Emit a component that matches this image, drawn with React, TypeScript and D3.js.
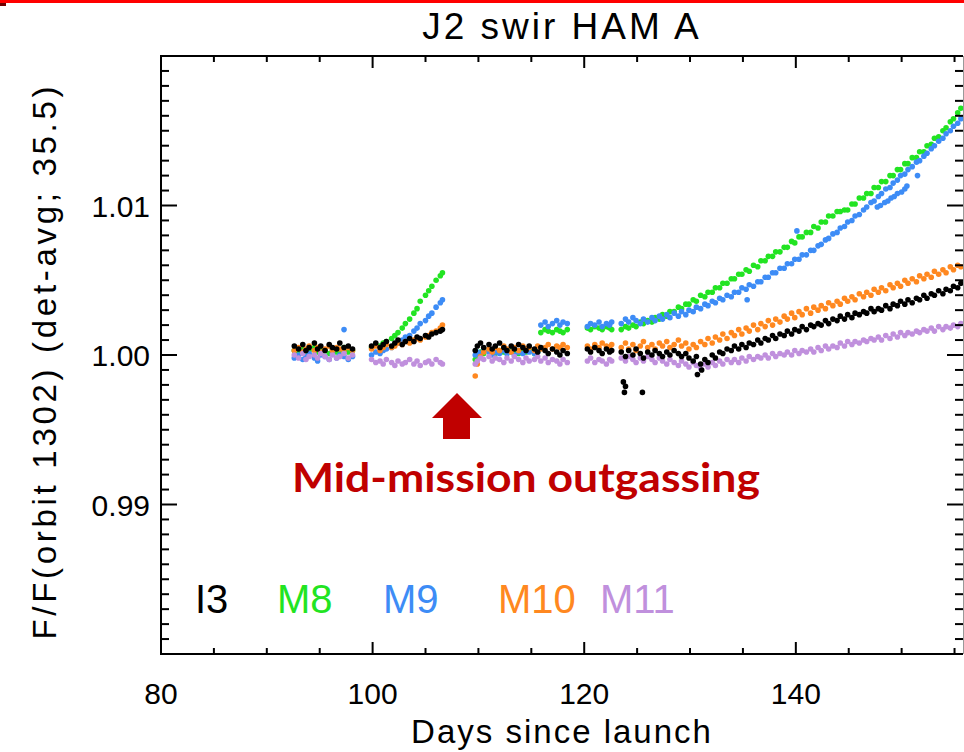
import React from "react";
import * as d3 from "d3";

// Observation days (days since launch); one entry per orbit sample, grouped by data segment.
const DAYS = [
  92.6, 93.0, 93.4, 93.7, 94.0, 94.5, 94.8, 95.1, 95.5, 95.9, 96.2, 96.6, 96.9, 97.3, 97.7, 98.1,
  99.9, 100.3, 100.7, 101.0, 101.3, 101.8, 102.1, 102.4, 102.8, 103.1, 103.5, 103.9, 104.2, 104.5, 105.0, 105.3, 105.6, 106.0, 106.4, 106.6,
  109.7, 109.9, 110.2, 110.5, 111.0, 111.3, 111.6, 112.0, 112.4, 112.7, 113.1, 113.4, 113.8, 114.2, 114.5, 114.8, 115.3, 115.6,
  115.9, 116.3, 116.6, 117.0, 117.4, 117.7, 118.0, 118.4,
  120.3, 120.6, 121.0, 121.4, 121.7, 122.1, 122.4, 122.6,
  123.5, 123.9, 124.2, 124.6, 124.9, 125.3, 125.6, 126.0, 126.4, 126.7,
  127.1, 127.4, 127.8, 128.1, 128.5, 128.9, 129.2, 129.6, 129.9, 130.3,
  130.6, 131.0, 131.4, 131.7, 132.1, 132.4, 132.8, 133.1, 133.5, 133.9,
  134.2, 134.6, 134.9, 135.3, 135.6, 136.0, 136.4, 136.7, 137.1, 137.4,
  137.8, 138.1, 138.5, 138.9, 139.2, 139.6, 139.9, 140.3, 140.6, 141.0,
  141.4, 141.7, 142.1, 142.4, 142.8, 143.1, 143.5, 143.9, 144.2, 144.6,
  144.9, 145.3, 145.6, 146.0, 146.4, 146.7, 147.1, 147.4, 147.8, 148.1,
  148.5, 148.9, 149.2, 149.6, 149.9, 150.3, 150.6, 151.0, 151.4, 151.7,
  152.1, 152.4, 152.8, 153.1, 153.5, 153.9, 154.2, 154.6, 154.9, 155.3,
  155.6,
];

// F/F change per band, in units of 0.0001 (value = 1 + v / 10000), aligned with DAYS.
const I3 = [
  6, 4, 7, 3, 5, 8, 4, 6, 3, 7, 5, 4, 8, 5, 6, 4,
  6, 8, 5, 7, 9, 6, 8, 10, 7, 9, 11, 9, 12, 11, 13, 12, 14, 15, 16, 17,
  3, 6, 8, 5, 7, 4, 6, 8, 5, 3, 6, 4, 7, 5, 3, 6, 4, 2, 5, 3, 1, 4, 2, 0, 3, 1,
  4, 2, 5, 3, 1, 4, 2, 3,
  2, -1, 3, 0, 4, 1, -2, 2, 0, 3,
  1, -1, 2, 0, 3, 1, -1, 1, -2, -4,
  -1, -6, -3, -5, 0, -2, 2, 1, 4, 3,
  6, 4, 7, 5, 8, 7, 10, 8, 11, 10,
  13, 11, 14, 13, 16, 14, 17, 16, 19, 17,
  20, 19, 21, 20, 23, 21, 24, 23, 26, 24,
  27, 25, 28, 27, 29, 28, 31, 29, 31, 30,
  33, 31, 34, 33, 36, 34, 37, 35, 38, 37,
  40, 38, 41, 40, 43, 41, 44, 43, 46, 45,
  48,
];

const M8 = [
  3, 2, 4, 1, 3, 5, 2, 4, 3, 1, 4, 2, 3, 5, 2, 3,
  5, 7, 6, 8, 9, 11, 13, 15, 18, 21, 24, 28, 31, 36, 40, 43, 46, 50, 53, 55,
  -3, 0, 2, 1, 3, 2, 1, 3, 2, 1, 3, 2, 1, 3, 2, 3, 1, 2, 15, 17, 16, 15, 17, 16, 15, 17,
  18, 17, 19, 18, 17, 19, 18, 17,
  17, 19, 18, 20, 19, 22, 21, 23, 22, 25,
  24, 27, 26, 29, 29, 32, 31, 34, 34, 37,
  36, 40, 39, 42, 42, 45, 45, 48, 48, 51,
  51, 54, 54, 57, 56, 60, 59, 63, 63, 66,
  66, 69, 69, 72, 72, 76, 75, 79, 79, 82,
  82, 86, 85, 89, 89, 93, 93, 96, 96, 97,
  97, 101, 101, 105, 105, 108, 108, 112, 112, 116,
  116, 120, 120, 124, 124, 128, 128, 132, 132, 136,
  136, 140, 141, 145, 146, 150, 152, 156, 158, 162,
  165,
];

const M9 = [
  -2, 0, -3, -1, 1, -2, -4, 0, -1, -3, 1, -2, 0, -1, -3, -1,
  0, 2, 1, 3, 4, 5, 7, 8, 10, 12, 13, 16, 18, 21, 23, 26, 28, 32, 35, 37,
  0, 2, 1, 3, 2, 0, 2, 1, 3, 1, 2, 0, 2, 1, 3, 2, 1, 2, 20, 22, 19, 21, 23, 20, 22, 21,
  19, 21, 20, 22, 19, 21, 20, 22,
  21, 24, 22, 25, 23, 21, 24, 22, 25, 23,
  26, 24, 27, 25, 28, 26, 29, 27, 30, 29,
  32, 31, 34, 33, 36, 35, 38, 37, 40, 39,
  42, 42, 45, 44, 47, 46, 49, 49, 52, 52,
  55, 55, 58, 58, 61, 61, 64, 64, 67, 67,
  70, 70, 73, 74, 77, 78, 81, 82, 85, 86,
  89, 90, 93, 94, 97, 99, 102, 103, 106, 108,
  111, 112, 115, 117, 120, 121, 124, 126, 129, 130,
  133, 135, 138, 140, 143, 145, 148, 150, 153, 155,
  158,
];

const M10 = [
  3, 5, 2, 4, 6, 3, 5, 2, 4, 6, 3, 5, 4, 2, 5, 3,
  4, 6, 3, 5, 7, 5, 6, 8, 7, 9, 8, 10, 11, 10, 12, 13, 15, 16, 18, 20,
  -14, -6, -1, 2, 4, 2, 5, 3, 6, 4, 2, 5, 3, 6, 4, 5, 3, 6, 4, 5, 7, 4, 6, 5, 7, 5,
  6, 4, 7, 5, 8, 6, 5, 7,
  5, 8, 4, 7, 3, 6, 9, 5, 7, 4,
  8, 6, 9, 5, 7, 10, 6, 8, 4, 7,
  5, 9, 7, 11, 8, 12, 10, 14, 11, 15,
  13, 17, 14, 18, 16, 20, 17, 21, 19, 23,
  20, 24, 22, 26, 24, 28, 25, 29, 27, 31,
  28, 32, 30, 33, 31, 35, 33, 36, 34, 38,
  36, 39, 37, 41, 39, 42, 40, 44, 42, 45,
  43, 47, 45, 48, 46, 50, 48, 51, 49, 53,
  51, 54, 52, 56, 54, 57, 55, 59, 57, 60,
  59,
];

const M11 = [
  0, -2, 1, -3, -1, 0, -2, 1, -1, -3, 0, -2, -1, 1, -2, 0,
  -3, -5, -4, -6, -3, -5, -7, -4, -6, -5, -3, -6, -4, -7, -5, -4, -6, -3, -5, -6,
  -6, -4, -2, -3, -1, -4, -2, -3, -5, -2, -4, -1, -3, -5, -2, -4, -3, -1, -4, -2, -5, -3, -4, -6, -3, -5,
  -4, -2, -5, -3, -4, -6, -3, -4,
  -2, -4, -1, -3, -5, -2, -4, -1, -3, -5,
  -2, -4, -6, -3, -5, -7, -4, -6, -8, -5,
  -7, -9, -6, -8, -5, -7, -4, -6, -3, -5,
  -3, -5, -2, -4, -1, -3, -1, -2, 0, -2,
  1, -1, 1, 0, 2, 0, 3, 1, 3, 2,
  4, 2, 5, 3, 6, 4, 6, 5, 8, 6,
  9, 7, 9, 8, 10, 9, 11, 10, 12, 10,
  13, 11, 14, 12, 15, 13, 15, 14, 16, 15,
  17, 16, 18, 16, 19, 17, 19, 18, 20, 19,
  21,
];

// Isolated samples off the main tracks.
const I3_EXTRA_DAYS = [123.7, 123.9, 123.8, 125.5, 130.7, 131.1];
const I3_EXTRA = [-18, -21, -25, -25, -13, -10];
const M9_EXTRA_DAYS = [97.3, 135.4, 140.1, 151.5, 147.7, 148.0, 148.4, 148.7, 149.0, 149.3, 149.6, 150.0, 150.3, 150.5];
const M9_EXTRA = [17, 37, 83, 120, 99, 100, 102, 103, 105, 106, 108, 109, 111, 113];

const X_MAJOR = [80, 100, 120, 140];
const X_LABELS = ["80", "100", "120", "140"];
const Y_MAJOR = [0.99, 1.0, 1.01];
const Y_LABELS = ["0.99", "1.00", "1.01"];
const BANDS = ["I3", "M8", "M9", "M10", "M11"];

const COLORS: Record<string, string> = {
  I3: "#000000",
  M8: "#22e422",
  M9: "#3d8cf6",
  M10: "#ff8820",
  M11: "#c090dd",
};

const W = 964;
const H = 752;
const LEFT = 161;
const RIGHT = 963;
const TOP = 56;
const BOTTOM = 654;

const x = d3.scaleLinear().domain([80, 155.8]).range([LEFT, RIGHT]);
const y = d3.scaleLinear().domain([0.98, 1.02]).range([BOTTOM, TOP]);
const toFlux = (v: number) => 1 + v / 10000;

const FONT = "'Liberation Sans', Arial, sans-serif";

type Pt = { d: number; v: number };

function seriesPoints(days: number[], vals: number[], extraDays: number[] = [], extra: number[] = []): Pt[] {
  const pts: Pt[] = days.map((d, i) => ({ d, v: vals[i] }));
  extraDays.forEach((d, i) => pts.push({ d, v: extra[i] }));
  return pts;
}

// Plot order: M8, M9, M10, M11, then I3 on top.
const SERIES = [
  { name: "M8", pts: seriesPoints(DAYS, M8) },
  { name: "M9", pts: seriesPoints(DAYS, M9, M9_EXTRA_DAYS, M9_EXTRA) },
  { name: "M10", pts: seriesPoints(DAYS, M10) },
  { name: "M11", pts: seriesPoints(DAYS, M11) },
  { name: "I3", pts: seriesPoints(DAYS, I3, I3_EXTRA_DAYS, I3_EXTRA) },
];

const LEGEND_X = [195, 277, 383, 498, 600];

export default function App() {
  const xMinor = d3.range(80, 156, 5).filter((v) => !X_MAJOR.includes(v));
  const yMinor = d3.range(1, 40).map((i) => 0.98 + i * 0.001).filter((_, i) => (i + 1) % 10 !== 0);
  const XMAJ = 12, XMIN = 6, YMAJ = 16, YMIN = 8;

  return (
    <svg
      width={W}
      height={H}
      viewBox={`0 0 ${W} ${H}`}
      style={{ position: "absolute", left: 0, top: 0, display: "block", background: "#fff" }}
    >
      <rect x={0} y={0} width={W} height={H} fill="#fff" />
      {/* slide header rule */}
      <rect x={0} y={0} width={W} height={3} fill="#ff0000" />
      <rect x={0} y={3} width={6} height={3} fill="#700000" />

      {/* title */}
      <text x={(LEFT + RIGHT) / 2} y={39} textAnchor="middle" fontFamily={FONT} fontSize={37} letterSpacing={3} fill="#000">
        J2 swir HAM A
      </text>

      {/* data */}
      <g>
        {SERIES.map((s) => (
          <g key={s.name} fill={COLORS[s.name]}>
            {s.pts.map((p, i) => (
              <circle key={i} cx={x(p.d)} cy={y(toFlux(p.v))} r={2.8} />
            ))}
          </g>
        ))}
      </g>

      {/* frame */}
      <g stroke="#000" strokeWidth={2} fill="none">
        <line x1={LEFT} y1={TOP} x2={RIGHT} y2={TOP} />
        <line x1={LEFT} y1={BOTTOM} x2={RIGHT} y2={BOTTOM} />
        <line x1={LEFT} y1={TOP - 1} x2={LEFT} y2={BOTTOM + 1} />
      </g>
      <line x1={RIGHT + 0.5} y1={TOP} x2={RIGHT + 0.5} y2={BOTTOM} stroke="#999" strokeWidth={1} />

      {/* ticks on all four sides */}
      <g stroke="#000" strokeWidth={2}>
        {X_MAJOR.map((t) => (
          <g key={"xm" + t}>
            <line x1={x(t)} x2={x(t)} y1={BOTTOM} y2={BOTTOM - XMAJ} />
            <line x1={x(t)} x2={x(t)} y1={TOP} y2={TOP + XMAJ} />
          </g>
        ))}
        {xMinor.map((t) => (
          <g key={"xn" + t}>
            <line x1={x(t)} x2={x(t)} y1={BOTTOM} y2={BOTTOM - XMIN} />
            <line x1={x(t)} x2={x(t)} y1={TOP} y2={TOP + XMIN} />
          </g>
        ))}
        {Y_MAJOR.map((t) => (
          <g key={"ym" + t}>
            <line x1={LEFT} x2={LEFT + YMAJ} y1={y(t)} y2={y(t)} />
            <line x1={RIGHT} x2={RIGHT - YMAJ} y1={y(t)} y2={y(t)} />
          </g>
        ))}
        {yMinor.map((t, i) => (
          <g key={"yn" + i}>
            <line x1={LEFT} x2={LEFT + YMIN} y1={y(t)} y2={y(t)} />
            <line x1={RIGHT} x2={RIGHT - YMIN} y1={y(t)} y2={y(t)} />
          </g>
        ))}
      </g>

      {/* tick labels */}
      <g fontFamily={FONT} fontSize={30} fill="#000">
        {X_MAJOR.map((t, i) => (
          <text key={"xl" + t} x={x(t)} y={704} textAnchor="middle">
            {X_LABELS[i]}
          </text>
        ))}
        {Y_MAJOR.map((t, i) => (
          <text key={"yl" + t} x={150} y={y(t) + 11} textAnchor="end">
            {Y_LABELS[i]}
          </text>
        ))}
      </g>

      {/* axis titles */}
      <text x={(LEFT + RIGHT) / 2} y={743} textAnchor="middle" fontFamily={FONT} fontSize={33} letterSpacing={2} fill="#000">
        Days since launch
      </text>
      <text
        transform={`translate(56, 363) rotate(-90)`}
        textAnchor="middle"
        fontFamily={FONT}
        fontSize={33}
        textLength={553}
        lengthAdjust="spacing"
        fill="#000"
      >
        F/F(orbit 1302) (det-avg; 35.5)
      </text>

      {/* band legend */}
      <g fontFamily={FONT} fontSize={40}>
        {BANDS.map((b, i) => (
          <text key={b} x={LEGEND_X[i]} y={613} fill={COLORS[b]}>
            {b}
          </text>
        ))}
      </g>

      {/* annotation */}
      <polygon points="457,393 432,418 443,418 443,439 470,439 470,418 482,418" fill="#c00000" />
      <text x={292} y={492} fontFamily="Lato, 'Open Sans', sans-serif" fontWeight={700} fontSize={40} textLength={468} lengthAdjust="spacingAndGlyphs" fill="#c00000">
        Mid-mission outgassing
      </text>
    </svg>
  );
}
